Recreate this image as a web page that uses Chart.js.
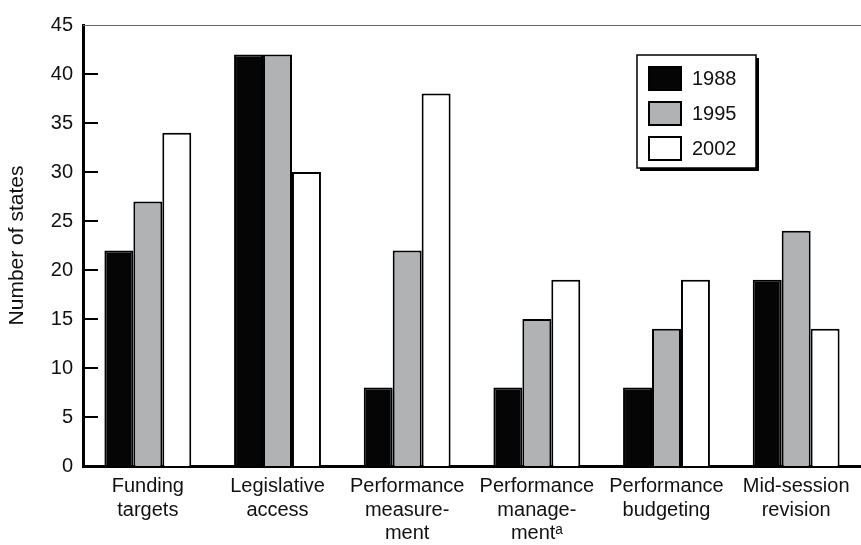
<!DOCTYPE html>
<html>
<head>
<meta charset="utf-8">
<script src="https://cdn.jsdelivr.net/npm/chart.js@4/dist/chart.umd.min.js"></script>
<style>
html,body{margin:0;padding:0;background:#fff;}
#wrap{width:861px;height:545px;position:relative;}
</style>
</head>
<body>
<div id="wrap"><canvas id="c" width="861" height="545"></canvas></div>
<script>
const categories = [
  ["Funding", "targets"],
  ["Legislative", "access"],
  ["Performance", "measure-", "ment"],
  ["Performance", "manage-", "ment\u1D43"],
  ["Performance", "budgeting"],
  ["Mid-session", "revision"]
];
const seriesNames = ["1988", "1995", "2002"];
const v1988 = [22, 42, 8, 8, 8, 19];
const v1995 = [27, 42, 22, 15, 14, 24];
const v2002 = [34, 30, 38, 19, 19, 14];
const yTicks = [0, 5, 10, 15, 20, 25, 30, 35, 40, 45];

const FONT = "'Liberation Sans', Arial, Helvetica, sans-serif";
const fills = ["#050505", "#b1b2b4", "#ffffff"];

const frame = {
  id: 'frame',
  afterDatasetsDraw(chart) {
    const ctx = chart.ctx, a = chart.chartArea, y = chart.scales.y;
    ctx.save();
    ctx.strokeStyle = '#666';
    ctx.lineWidth = 1;
    ctx.beginPath();
    ctx.moveTo(a.left, a.top + 0.5);
    ctx.lineTo(a.right, a.top + 0.5);
    ctx.stroke();
    ctx.strokeStyle = '#000';
    ctx.lineWidth = 2;
    y.ticks.forEach(t => {
      if (t.value <= 0 || t.value >= 45) return;
      const py = Math.round(y.getPixelForValue(t.value));
      ctx.beginPath();
      ctx.moveTo(a.left, py);
      ctx.lineTo(a.left + 15, py);
      ctx.stroke();
    });
    const bx = a.right - 224, by = a.top + 30, bw = 119, bh = 113;
    ctx.fillStyle = '#000';
    ctx.fillRect(bx + 3, by + 3, bw, bh);
    ctx.fillStyle = '#fff';
    ctx.fillRect(bx, by, bw, bh);
    ctx.lineWidth = 1.5;
    ctx.strokeStyle = '#000';
    ctx.strokeRect(bx, by, bw, bh);
    chart.data.datasets.forEach((ds, i) => {
      const sy = by + 11 + i * 35;
      ctx.fillStyle = ds.backgroundColor;
      ctx.fillRect(bx + 11, sy, 34, 25);
      ctx.lineWidth = 2;
      ctx.strokeStyle = '#000';
      ctx.strokeRect(bx + 12, sy + 1, 32, 23);
      ctx.fillStyle = '#111';
      ctx.font = "20px " + FONT;
      ctx.textBaseline = 'middle';
      ctx.textAlign = 'left';
      ctx.fillText(ds.label, bx + 55, sy + 13);
    });
    ctx.restore();
  }
};

new Chart(document.getElementById('c'), {
  type: 'bar',
  data: {
    labels: categories,
    datasets: [v1988, v1995, v2002].map((d, i) => ({
      label: seriesNames[i],
      data: d,
      backgroundColor: fills[i],
      borderColor: '#000',
      borderWidth: 2,
      borderSkipped: 'bottom',
      barPercentage: 1.0,
      categoryPercentage: 0.67
    }))
  },
  options: {
    responsive: false,
    animation: false,
    devicePixelRatio: 1,
    layout: { padding: { top: 25, right: 0, left: 0, bottom: 0 } },
    plugins: { legend: { display: false }, tooltip: { enabled: false } },
    scales: {
      x: {
        grid: { display: false, drawTicks: false },
        border: { display: true, color: '#000', width: 3 },
        ticks: { color: '#111', font: { family: FONT, size: 20, lineHeight: 1.175 }, padding: 9, maxRotation: 0, autoSkip: false },
        afterFit(s) { s.height = 79; }
      },
      y: {
        min: 0, max: 45,
        afterBuildTicks(s) { s.ticks = yTicks.map(v => ({ value: v })); },
        grid: { display: false, drawTicks: false },
        border: { display: true, color: '#000', width: 3 },
        ticks: { color: '#111', font: { family: FONT, size: 20 }, padding: 10 },
        title: { display: true, text: 'Number of states', color: '#111', font: { family: FONT, size: 21 }, padding: { top: 5, bottom: 0 } },
        afterFit(s) { s.width = 83; }
      }
    }
  },
  plugins: [frame]
});
</script>
</body>
</html>
